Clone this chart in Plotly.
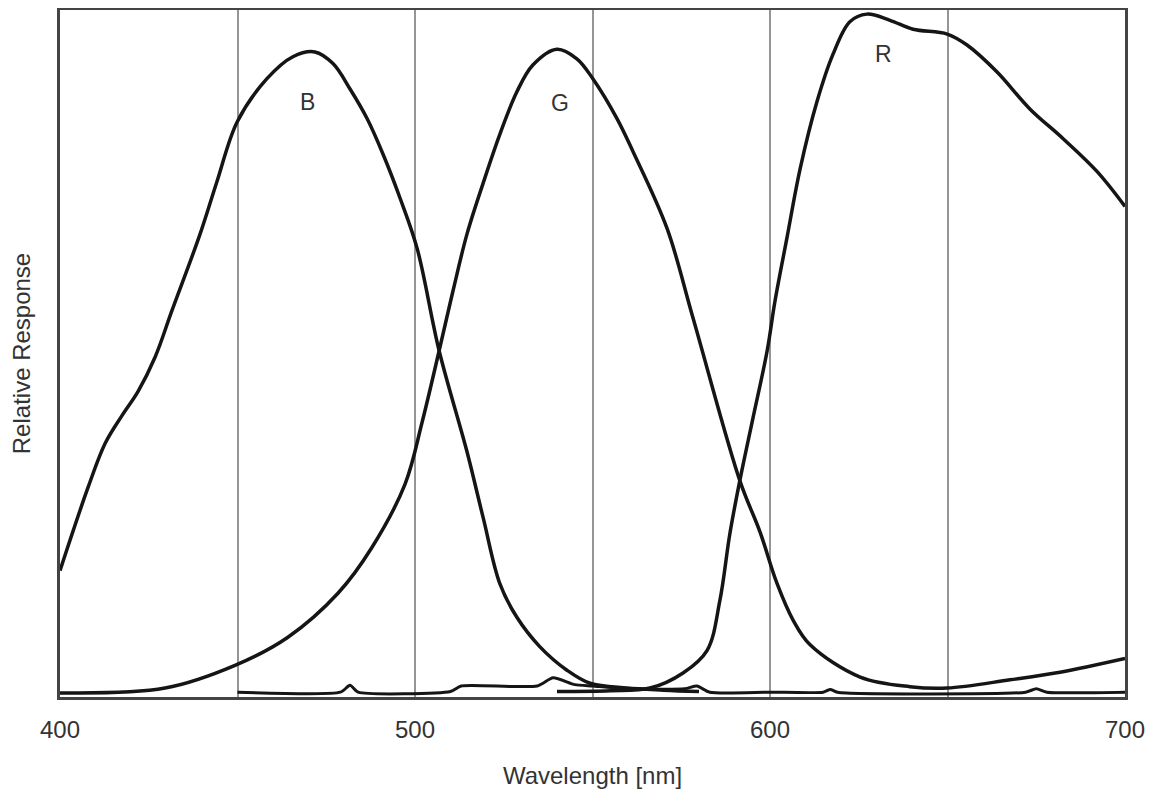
import plotly.graph_objects as go

# Wavelength (nm) / relative response (0..1)
b_nm = [400, 407.9, 412.7, 417.5, 422.0, 426.8, 431.5, 439.4, 444.2, 449.9, 458.3, 465.6, 471.8,
        476.9, 481.7, 486.5, 491.0, 495.8, 500.6, 506.8, 514.6, 519.2, 523.9, 528.7, 535.2, 542.8,
        549.3, 559.7, 570, 580]
b_val = [0.184, 0.305, 0.369, 0.410, 0.445, 0.495, 0.562, 0.673, 0.750, 0.837, 0.900, 0.932, 0.939,
         0.922, 0.885, 0.842, 0.790, 0.726, 0.653, 0.504, 0.358, 0.261, 0.165, 0.116, 0.073, 0.039,
         0.020, 0.013, 0.010, 0.008]

g_nm = [400, 429.6, 449.3, 464.2, 478.3, 487.9, 497.2, 502.0, 506.8, 510.7, 514.6, 519.2, 523.9,
        528.7, 533.2, 540.0, 545.6, 550.1, 556.9, 561.4, 571.0, 578.3, 591.5, 597.2, 602.0, 606.5,
        611.3, 625.4, 639.4, 649.9, 667.6, 681.7, 700]
g_val = [0.006, 0.013, 0.046, 0.087, 0.151, 0.218, 0.310, 0.400, 0.504, 0.591, 0.673, 0.748, 0.819,
         0.881, 0.920, 0.943, 0.929, 0.900, 0.842, 0.794, 0.682, 0.552, 0.315, 0.240, 0.165, 0.112,
         0.076, 0.029, 0.015, 0.013, 0.025, 0.036, 0.056]

r_nm = [540, 555, 566.2, 575.5, 582.3, 585.9, 588.7, 591.5, 595.2, 599.2, 601.4, 604.8, 608.5,
        613.2, 617.7, 622.5, 627.3, 633.8, 640.3, 649.9, 655.5, 663.9, 673.2, 682.5, 692.1, 700]
r_val = [0.008, 0.009, 0.013, 0.035, 0.068, 0.141, 0.238, 0.315, 0.406, 0.504, 0.576, 0.669, 0.769,
         0.866, 0.935, 0.983, 0.994, 0.985, 0.972, 0.965, 0.949, 0.910, 0.856, 0.813, 0.765, 0.714]

base_nm = [450, 479, 481.7, 484, 510, 513, 534.4, 538.9, 545, 550, 560, 576, 579.4, 583, 600,
           615, 617, 619, 672, 675, 678, 700]
base_val = [0.007, 0.007, 0.017, 0.007, 0.008, 0.016, 0.016, 0.028, 0.018, 0.016, 0.012, 0.012,
            0.016, 0.007, 0.007, 0.007, 0.011, 0.007, 0.007, 0.012, 0.007, 0.007]

labels = ["B", "G", "R"]
label_nm = [469.6, 540.8, 632.1]
label_val = [0.866, 0.864, 0.936]

x_ticks = [400, 450, 500, 550, 600, 650, 700]
x_ticktext = ["400", "", "500", "", "600", "", "700"]

FONT = "Liberation Sans, Arial, sans-serif"
TXT = "#333"

fig = go.Figure()
line_col = "#151515"
for xs, ys in [(b_nm, b_val), (g_nm, g_val), (r_nm, r_val)]:
    fig.add_trace(go.Scatter(x=xs, y=ys, mode="lines",
                             line=dict(color=line_col, width=3.5, shape="spline", smoothing=1.0),
                             showlegend=False, hoverinfo="skip"))
fig.add_trace(go.Scatter(x=base_nm, y=base_val, mode="lines",
                         line=dict(color=line_col, width=3, shape="spline", smoothing=0.6),
                         showlegend=False, hoverinfo="skip"))

for t, xv, yv in zip(labels, label_nm, label_val):
    fig.add_annotation(x=xv, y=yv, text=t, showarrow=False,
                       font=dict(family=FONT, size=23, color=TXT))

fig.update_layout(
    width=1145, height=791,
    margin=dict(l=52, r=28, t=2, b=102, autoexpand=False),
    paper_bgcolor="white", plot_bgcolor="white",
    font=dict(family=FONT, size=24, color=TXT),
)
fig.update_xaxes(range=[400, 700], tickvals=x_ticks, ticktext=x_ticktext,
                 showgrid=True, gridcolor="#959595", gridwidth=2.2,
                 showline=True, linecolor="#444", linewidth=2.5, mirror=True,
                 ticks="", ticklabelstandoff=9, zeroline=False,
                 tickfont=dict(size=24, color=TXT),
                 title=dict(text="Wavelength [nm]", standoff=26,
                            font=dict(size=24, color=TXT)))
fig.update_yaxes(range=[0, 1], showticklabels=False, showgrid=False, zeroline=False,
                 showline=True, linecolor="#444", linewidth=2.5, mirror=True, ticks="",
                 automargin=False,
                 title=dict(text="Relative Response", standoff=26,
                            font=dict(size=24, color=TXT)))

fig.write_html("out.html")
